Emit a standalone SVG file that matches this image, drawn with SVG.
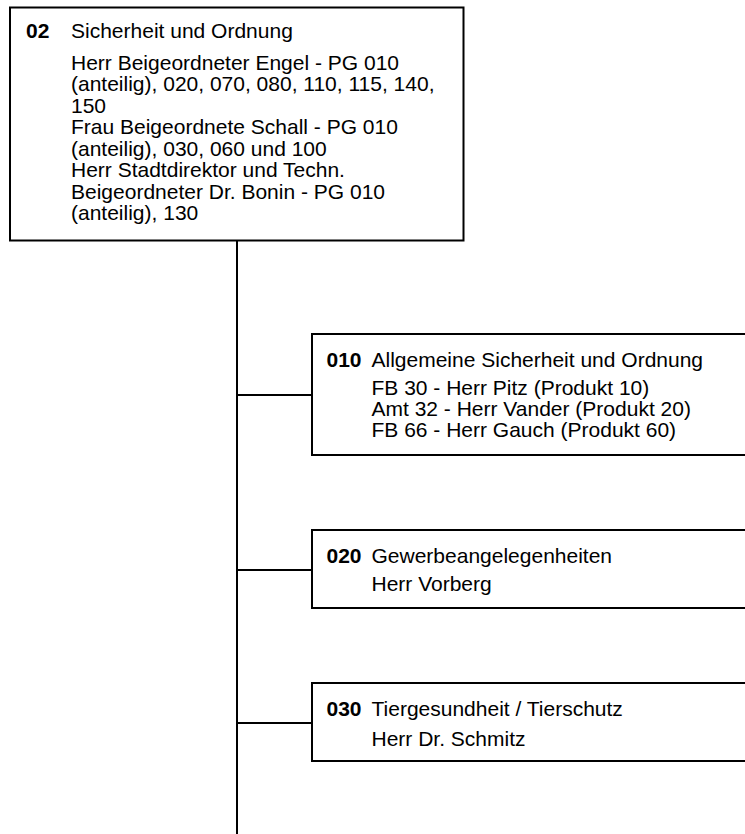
<svg xmlns="http://www.w3.org/2000/svg" width="745" height="834" viewBox="0 0 745 834">
<style>
.box{fill:#fff;stroke:#000;stroke-width:2}
.t{font-family:"Liberation Sans",Arial,sans-serif;font-size:21px;fill:#000}
.b{font-weight:bold}
.c{stroke:#000;stroke-width:2;fill:none}
</style>
<rect width="745" height="834" fill="#fff"/>
<g id="connectors">
<line class="c" x1="237" y1="240" x2="237" y2="834"/>
<line class="c" x1="237" y1="395" x2="312" y2="395"/>
<line class="c" x1="237" y1="570" x2="312" y2="570"/>
<line class="c" x1="237" y1="723" x2="312" y2="723"/>
</g>
<g id="node-02">
<rect class="box" x="10" y="7.5" width="453.5" height="233"/>
<text class="t b" x="26" y="38">02</text>
<text class="t" x="71" y="38">Sicherheit und Ordnung</text>
<text class="t" x="71" y="69.5">Herr Beigeordneter Engel - PG 010</text>
<text class="t" x="71" y="91">(anteilig), 020, 070, 080, 110, 115, 140,</text>
<text class="t" x="71" y="112.5">150</text>
<text class="t" x="71" y="134">Frau Beigeordnete Schall - PG 010</text>
<text class="t" x="71" y="155.5">(anteilig), 030, 060 und 100</text>
<text class="t" x="71" y="177">Herr Stadtdirektor und Techn.</text>
<text class="t" x="71" y="198.5">Beigeordneter Dr. Bonin - PG 010</text>
<text class="t" x="71" y="220">(anteilig), 130</text>
</g>
<g id="node-010">
<rect class="box" x="312" y="334" width="450" height="121"/>
<text class="t b" x="326.5" y="366.5">010</text>
<text class="t" x="371.5" y="366.5">Allgemeine Sicherheit und Ordnung</text>
<text class="t" x="371.5" y="394.5">FB 30 - Herr Pitz (Produkt 10)</text>
<text class="t" x="371.5" y="415.5">Amt 32 - Herr Vander (Produkt 20)</text>
<text class="t" x="371.5" y="436.5">FB 66 - Herr Gauch (Produkt 60)</text>
</g>
<g id="node-020">
<rect class="box" x="312" y="530" width="450" height="78"/>
<text class="t b" x="326.5" y="563">020</text>
<text class="t" x="371.5" y="563">Gewerbeangelegenheiten</text>
<text class="t" x="371.5" y="590.5">Herr Vorberg</text>
</g>
<g id="node-030">
<rect class="box" x="312" y="683" width="450" height="78"/>
<text class="t b" x="326.5" y="716">030</text>
<text class="t" x="371.5" y="716">Tiergesundheit / Tierschutz</text>
<text class="t" x="371.5" y="745.5">Herr Dr. Schmitz</text>
</g>
</svg>
